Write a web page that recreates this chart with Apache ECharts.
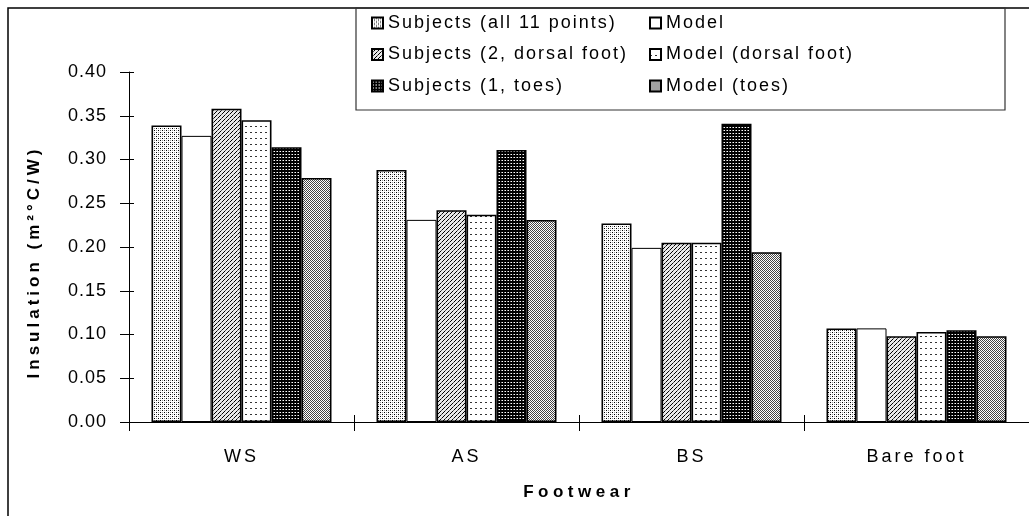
<!DOCTYPE html>
<html>
<head>
<meta charset="utf-8">
<script src="https://cdn.jsdelivr.net/npm/echarts@6/dist/echarts.min.js"></script>
<style>html,body{margin:0;padding:0;background:#fff}#c{width:1029px;height:516px}</style>
</head>
<body>
<div id="c"></div>
<script>
const categories = ['WS', 'AS', 'BS', 'Bare foot'];
const seriesNames = ['Subjects (all 11 points)', 'Model', 'Subjects (2, dorsal foot)', 'Model (dorsal foot)', 'Subjects (1, toes)', 'Model (toes)'];
const subjectsAll = [0.339, 0.288, 0.227, 0.107];
const model = [0.327, 0.231, 0.199, 0.107];
const subjectsDorsal = [0.358, 0.242, 0.205, 0.098];
const modelDorsal = [0.345, 0.237, 0.205, 0.103];
const subjectsToes = [0.314, 0.311, 0.341, 0.105];
const modelToes = [0.279, 0.231, 0.194, 0.098];
const yTicks = [0, 0.05, 0.10, 0.15, 0.20, 0.25, 0.30, 0.35, 0.40];
const xName = 'Footwear';
const yName = 'Insulation (m²°C/W)';

// letter spacing (the original text is spaced out)
const SPACING = new Map();
seriesNames.forEach(n => SPACING.set(n, 2));
categories.forEach(n => SPACING.set(n, 3));
yTicks.forEach(v => SPACING.set(v.toFixed(2), 1));
SPACING.set(xName, 4.5);
SPACING.set(yName, 4);
(function () {
  const proto = CanvasRenderingContext2D.prototype;
  const orig = proto.fillText;
  proto.fillText = function (t, x, y, mw) {
    const s = SPACING.get(String(t));
    if (s != null && 'letterSpacing' in this) {
      const prev = this.letterSpacing;
      this.letterSpacing = s + 'px';
      if (mw === undefined) orig.call(this, t, x, y); else orig.call(this, t, x, y, mw);
      this.letterSpacing = prev;
    } else {
      if (mw === undefined) orig.call(this, t, x, y); else orig.call(this, t, x, y, mw);
    }
  };
})();

function pat(w, h, bg, pixels) {
  const c = document.createElement('canvas');
  c.width = w; c.height = h;
  const g = c.getContext('2d');
  g.fillStyle = bg; g.fillRect(0, 0, w, h);
  pixels.forEach(p => { g.fillStyle = p[2]; g.fillRect(p[0], p[1], p[3] || 1, p[4] || 1); });
  return { image: c, repeat: 'repeat' };
}
const fills = [
  pat(4, 4, '#ffffff', [[0, 0, '#000'], [2, 2, '#000'], [2, 0, '#999'], [0, 2, '#999']]),
  '#ffffff',
  pat(4, 4, '#e8e8e8', [[3, 0, '#000'], [2, 1, '#000'], [1, 2, '#555'], [0, 3, '#000']]),
  pat(5, 6, '#ffffff', [[0, 0, '#333', 2, 1]]),
  pat(3, 3, '#000000', [[1, 1, '#ffffff'], [0, 1, '#888']]),
  pat(2, 2, '#ffffff', [[0, 0, '#444'], [1, 1, '#444']])
];
const values = [subjectsAll, model, subjectsDorsal, modelDorsal, subjectsToes, modelToes];
const FONT = 'Liberation Sans';

const series = values.map((v, i) => ({
  name: seriesNames[i],
  type: 'bar',
  data: v,
  barGap: '0%',
  barCategoryGap: '20%',
  xAxisIndex: 0, yAxisIndex: 0,
  itemStyle: { color: fills[i], borderColor: '#000', borderWidth: i === 1 ? 1 : 1.6 },
  emphasis: { disabled: true }
}));

const legendText = { fontSize: 18, color: '#000', fontFamily: FONT };
const chart = echarts.init(document.getElementById('c'), null, { renderer: 'canvas' });
chart.setOption({
  animation: false,
  backgroundColor: '#fff',
  textStyle: { fontFamily: FONT },
  grid: { left: 129, right: -4, top: 72, bottom: 94 },
  legend: [
    {
      data: [seriesNames[0], seriesNames[2], seriesNames[4]],
      orient: 'vertical', left: 366, top: 9, itemWidth: 11, itemHeight: 11, itemGap: 13.5,
      icon: 'rect', textStyle: legendText, selectedMode: false
    },
    {
      data: [seriesNames[1], seriesNames[3], seriesNames[5]],
      orient: 'vertical', left: 644, top: 9, itemWidth: 11, itemHeight: 11, itemGap: 13.5,
      icon: 'rect', textStyle: legendText, selectedMode: false
    }
  ],
  xAxis: [
    {
      type: 'category', data: categories,
      name: xName, nameLocation: 'middle', nameGap: 62,
      nameTextStyle: { fontSize: 17, fontWeight: 'bold', color: '#000', fontFamily: FONT },
      axisLine: { lineStyle: { color: '#000', width: 1 } },
      axisTick: { show: true, length: 9, lineStyle: { color: '#000' } },
      axisLabel: { fontSize: 18, color: '#000', margin: 26, fontFamily: FONT },
      splitLine: { show: false }
    },
    {
      type: 'category', data: categories, position: 'bottom',
      axisLine: { show: false },
      axisTick: { show: true, inside: true, length: 7, lineStyle: { color: '#000' } },
      axisLabel: { show: false }, splitLine: { show: false }
    }
  ],
  yAxis: [
    {
      type: 'value', min: yTicks[0], max: yTicks[yTicks.length - 1], interval: 0.05,
      name: yName, nameLocation: 'middle', nameGap: 86, nameRotate: 90,
      nameTextStyle: { fontSize: 17, fontWeight: 'bold', color: '#000', fontFamily: FONT, padding: [0, 30, 0, 0] },
      axisLine: { show: true, lineStyle: { color: '#000', width: 1 } },
      axisTick: { show: true, length: 9, lineStyle: { color: '#000' } },
      axisLabel: { fontSize: 18, color: '#000', margin: 22, fontFamily: FONT, formatter: v => v.toFixed(2) },
      splitLine: { show: false }
    },
    {
      type: 'value', min: yTicks[0], max: yTicks[yTicks.length - 1], interval: 0.05, position: 'left',
      axisLine: { show: false },
      axisTick: { show: true, inside: true, length: 5, lineStyle: { color: '#000' } },
      axisLabel: { show: false }, splitLine: { show: false }
    }
  ],
  series: series,
  graphic: [
    { type: 'rect', shape: { x: 8, y: 8, width: 1200, height: 700 }, style: { fill: 'none', stroke: '#000', lineWidth: 1.5 }, silent: true, z: 100 },
    { type: 'rect', shape: { x: 356, y: 8, width: 649, height: 102 }, style: { fill: 'none', stroke: '#333', lineWidth: 1.2 }, silent: true, z: 100 }
  ]
});
</script>
</body>
</html>
